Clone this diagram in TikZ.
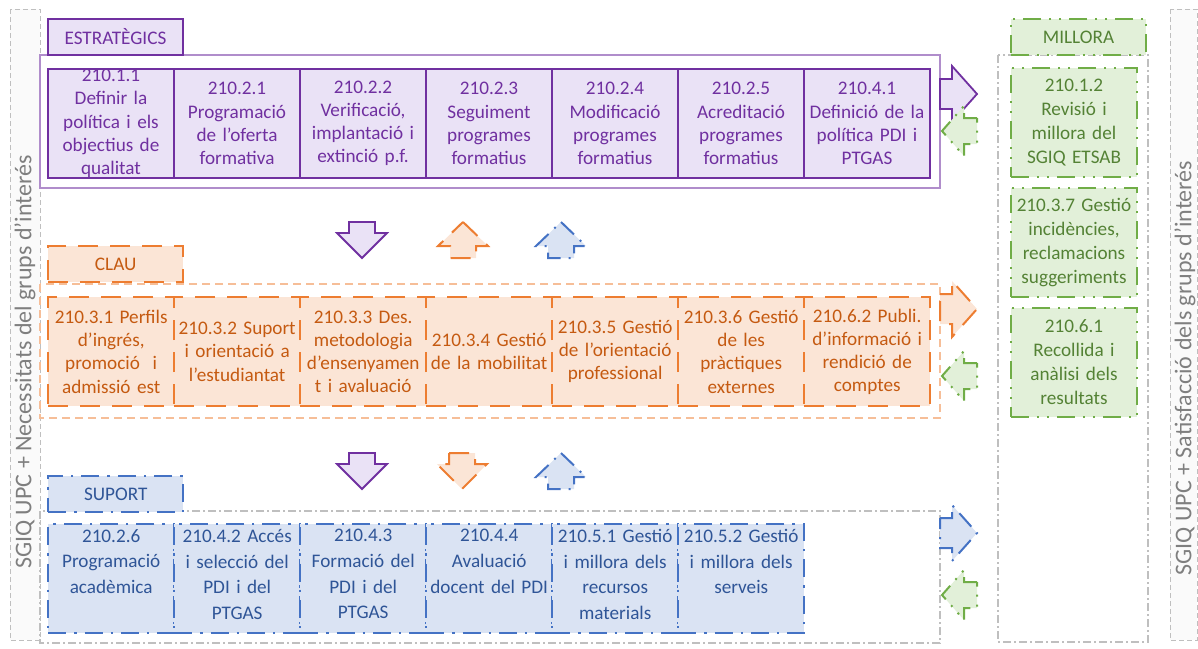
\documentclass[tikz,border=0pt]{standalone}
\usepackage{fontspec}
\setmainfont{Carlito}
\usetikzlibrary{positioning}
\definecolor{estline}{HTML}{7030A0}
\definecolor{estfill}{HTML}{EAE2F6}
\definecolor{clauline}{HTML}{ED7D31}
\definecolor{claufill}{HTML}{FBE5D6}
\definecolor{clautext}{HTML}{C55A11}
\definecolor{supline}{HTML}{4472C4}
\definecolor{supfill}{HTML}{DAE3F3}
\definecolor{suptext}{HTML}{2F5597}
\definecolor{milline}{HTML}{70AD47}
\definecolor{milfill}{HTML}{E2F0D9}
\definecolor{miltext}{HTML}{548235}
\definecolor{frame}{HTML}{BFBFBF}
\definecolor{striptext}{HTML}{7F7F7F}
\newcommand\cellw{63pt}
\newcommand\cellh{54.5pt}
\newcommand\headw{67.5pt}
\newcommand\headh{18pt}
\tikzset{
  every node/.style={font=\fontsize{9.6}{11.6}\selectfont},
  cell/.style={rectangle, anchor=north west, minimum width=\cellw, minimum height=\cellh, inner sep=0pt, text width=60pt, align=center},
  head/.style={rectangle, anchor=north west, minimum width=\headw, minimum height=\headh, inner sep=0pt},
  estline/.style={draw=estline, fill=estfill, line width=1pt},
  clauline/.style={draw=clauline, fill=claufill, line width=1.2pt, dash pattern=on 10pt off 6pt},
  supline/.style={draw=supline, fill=supfill, line width=1.2pt, dash pattern=on 9pt off 4pt on 1.2pt off 4pt},
  milline/.style={draw=milline, fill=milfill, line width=1pt, dash pattern=on 9pt off 4pt on 1pt off 4pt on 1pt off 4pt},
  estbox/.style={cell, estline, text=estline},
  claubox/.style={cell, clauline, text=clautext},
  supbox/.style={cell, supline},
  suplabel/.style={anchor=north, inner sep=0pt, text=suptext, text width=60pt, align=center, font=\fontsize{9.6}{12.8}\selectfont},
  milbox/.style={cell, milline, text=miltext, font=\fontsize{9.6}{12}\selectfont},
  esthead/.style={head, estline, text=estline},
  clauhead/.style={head, clauline, text=clautext},
  suphead/.style={head, supline, text=suptext},
  milhead/.style={head, milline, text=miltext},
  estarrow/.style={draw=estline, fill=estfill, line width=0.9pt},
  clauarrow/.style={draw=clauline, fill=claufill, line width=1pt, dash pattern=on 10pt off 6pt},
  suparrow/.style={draw=supline, fill=supfill, line width=1pt, dash pattern=on 9pt off 4pt on 1pt off 4pt},
  milarrow/.style={draw=milline, fill=milfill, line width=1pt, dash pattern=on 9pt off 4pt on 1pt off 4pt on 1pt off 4pt},
  stripframe/.style={draw=frame, fill=gray!4, line width=0.5pt, dash pattern=on 2.5pt off 1.5pt},
  striplabel/.style={rotate=90, text=striptext, inner sep=0pt, font=\fontsize{12}{14}\selectfont}
}
% block arrows: style, centre, start
\newcommand\rightarr[2]{\filldraw[#1] (940,#2-15) -- (952,#2-15) -- (952,#2-28) -- (977,#2) -- (952,#2+28) -- (952,#2+15) -- (940,#2+15) -- cycle;}
\newcommand\leftarr[2]{\filldraw[#1] (977,#2-13) -- (964,#2-13) -- (964,#2-25) -- (942,#2) -- (964,#2+25) -- (964,#2+13) -- (977,#2+13) -- cycle;}
\newcommand\downarr[3]{\filldraw[#1] (#2-13,#3) -- (#2+13,#3) -- (#2+13,#3+11) -- (#2+25,#3+11) -- (#2,#3+36) -- (#2-25,#3+11) -- (#2-13,#3+11) -- cycle;}
\newcommand\uparr[3]{\filldraw[#1] (#2,#3) -- (#2+25,#3+24) -- (#2+13,#3+24) -- (#2+13,#3+36) -- (#2-13,#3+36) -- (#2-13,#3+24) -- (#2-25,#3+24) -- cycle;}

\begin{document}
\begin{tikzpicture}[x=0.5pt,y=-0.5pt]
\useasboundingbox (0,0) rectangle (1198,648);
% side strips
\draw[stripframe] (10,9) rectangle (40,640);
\draw[stripframe] (1170,9) rectangle (1197,640);
\node[striplabel] (necessitats) at (25,362) {SGIQ UPC + Necessitats del grups d’interés};
\node[striplabel] (satisfaccio) at (1185,368) {SGIQ UPC + Satisfacció dels grups d’interés};

% group frames
\draw[estline!55, line width=0.8pt] (40,55) rectangle (940,188);
\draw[clauline!50, line width=0.6pt, dash pattern=on 4pt off 2.5pt] (40,284) rectangle (940,418);
\draw[frame, line width=0.6pt, dash pattern=on 4pt off 1.5pt on 1pt off 1.5pt] (40,511) rectangle (940,643);
\draw[frame, line width=0.6pt, dash pattern=on 4pt off 1.5pt on 1pt off 1.5pt] (998,55) rectangle (1148,642);

% headers
\node[esthead] (esthead) at (47,18) {ESTRATÈGICS};
\node[clauhead] (clauhead) at (47,245) {CLAU};
\node[suphead] (suphead) at (47,475) {SUPORT};
\node[milhead] (milhead) at (1010,18) {MILLORA};

% estrategics
\foreach \txt [count=\i from 0] in {
  {210.1.1\\Definir la\\política i els\\objectius de\\qualitat},
  {210.2.1\\Programació\\de l'oferta\\formativa},
  {210.2.2\\Verificació,\\implantació i\\extinció p.f.},
  {210.2.3\\Seguiment\\programes\\formatius},
  {210.2.4\\Modificació\\programes\\formatius},
  {210.2.5\\Acreditació\\programes\\formatius},
  {210.4.1\\Definició de la\\política PDI i\\PTGAS}}
  \node[estbox] (est\i) at (47+126*\i,68) {\txt};

% clau
\foreach \txt [count=\i from 0] in {
  {210.3.1 Perfils\\d’ingrés,\\promoció~ i\\admissió est},
  {210.3.2 Suport\\i orientació a\\l’estudiantat},
  {210.3.3 Des.\\metodologia\\d’ensenyamen\\t i avaluació},
  {210.3.4 Gestió\\de la mobilitat},
  {210.3.5 Gestió\\de l'orientació\\professional},
  {210.3.6 Gestió\\de les\\pràctiques\\externes},
  {210.6.2 Publi.\\d'informació i\\rendició de\\comptes}}
  \node[claubox] (clau\i) at (47+126*\i,296) {\txt};

% suport
\foreach \txt [count=\i from 0] in {
  {210.2.6\\Programació\\acadèmica},
  {210.4.2 Accés\\i selecció del\\PDI i del\\PTGAS},
  {210.4.3\\Formació del\\PDI i del\\PTGAS},
  {210.4.4\\Avaluació\\docent del PDI},
  {210.5.1 Gestió\\i millora dels\\recursos\\materials},
  {210.5.2 Gestió\\i millora dels\\serveis}}
  {\node[supbox] (sup\i) at (47+126*\i,523) {};
   \node[suplabel] (suptxt\i) at ([yshift=-3pt]sup\i.north) {\txt};}

% millora
\foreach \txt [count=\i from 0] in {
  {210.1.2\\Revisió i\\millora del\\SGIQ ETSAB},
  {210.3.7 Gestió\\incidències,\\reclamacions\\suggeriments},
  {210.6.1\\Recollida i\\anàlisi dels\\resultats}}
  \node[milbox] (mil\i) at (1010,67+120*\i) {\txt};

% arrows to and from millora
\rightarr{estarrow}{94}
\leftarr{milarrow}{131}
\rightarr{clauarrow}{309}
\leftarr{milarrow}{376}
\rightarr{suparrow}{533}
\leftarr{milarrow}{595}

% arrows between groups
\downarr{estarrow}{362}{222}
\uparr{clauarrow}{463}{222}
\uparr{suparrow}{561}{222}
\downarr{estarrow}{362}{453}
\downarr{clauarrow}{462}{453}
\uparr{suparrow}{561}{453}
\end{tikzpicture}
\end{document}
